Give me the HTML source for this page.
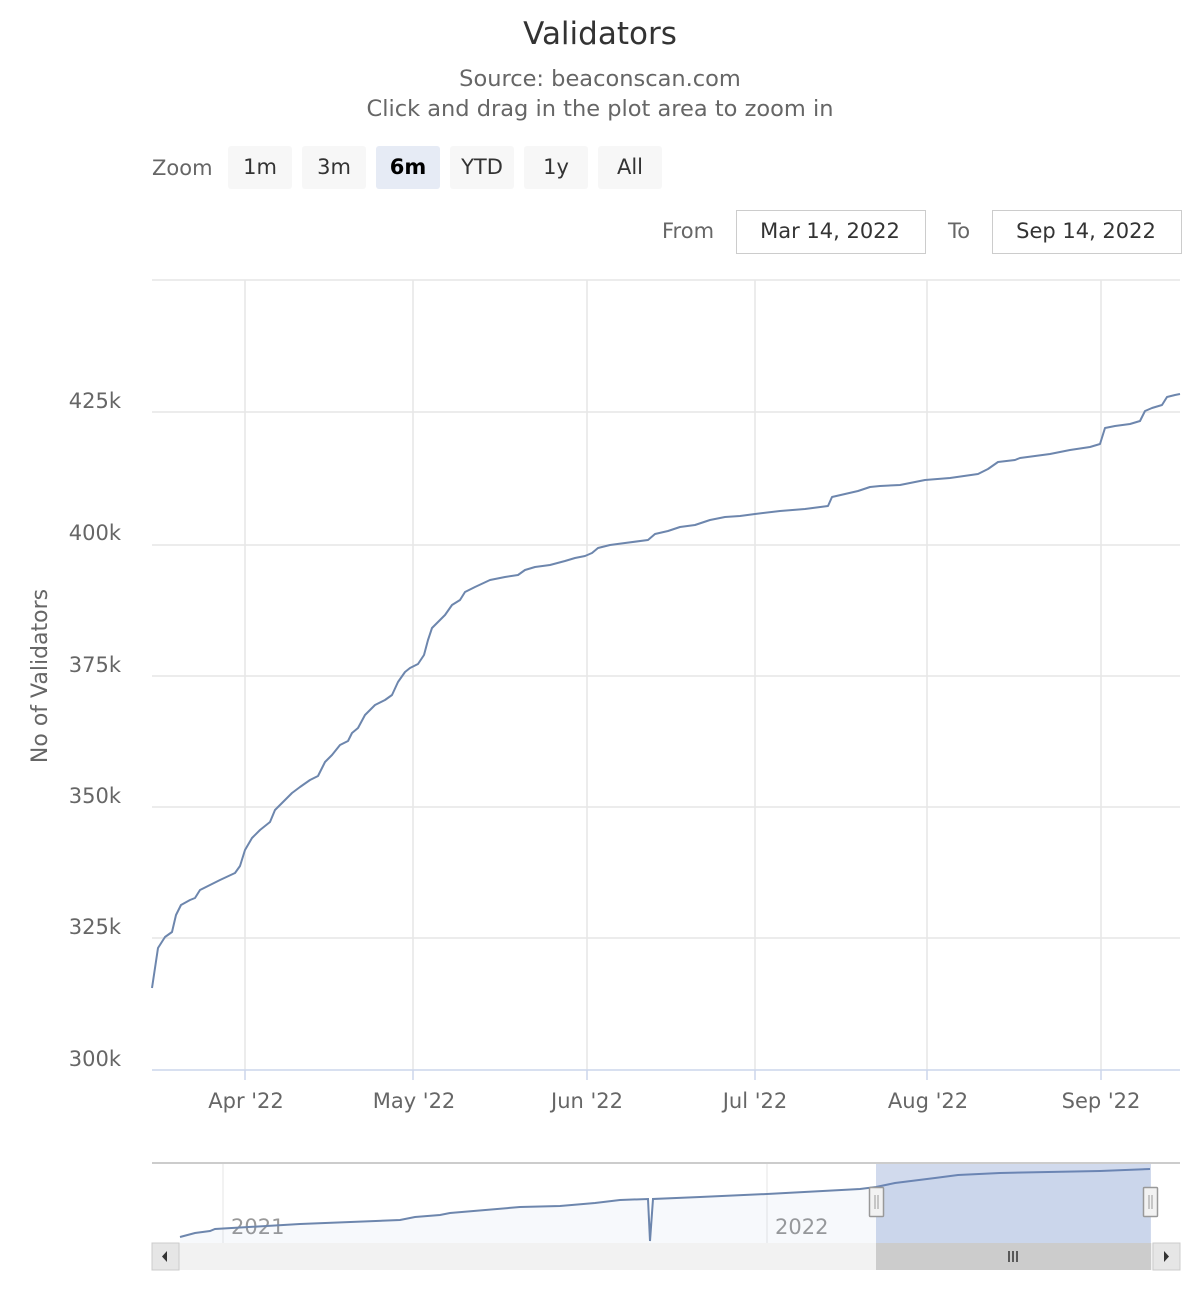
<!DOCTYPE html>
<html><head><meta charset="utf-8"><style>
body{margin:0;background:#fff;}
svg{display:block;font-family:"DejaVu Sans","Liberation Sans",sans-serif;}
</style></head><body>
<svg width="1200" height="1300" viewBox="0 0 1200 1300" xmlns="http://www.w3.org/2000/svg">
<rect width="1200" height="1300" fill="#fff"/>
<text x="600" y="44" text-anchor="middle" font-size="31" fill="#333">Validators</text>
<text x="600" y="86" text-anchor="middle" font-size="22.5" fill="#666">Source: beaconscan.com</text>
<text x="600" y="116" text-anchor="middle" font-size="22.5" fill="#666">Click and drag in the plot area to zoom in</text>
<text x="152" y="175" font-size="21" fill="#666">Zoom</text>
<g font-size="21" fill="#333" text-anchor="middle">
<rect x="228" y="146" width="64" height="43" rx="3" fill="#f7f7f7"/><text x="260" y="174">1m</text>
<rect x="302" y="146" width="64" height="43" rx="3" fill="#f7f7f7"/><text x="334" y="174">3m</text>
<rect x="376" y="146" width="64" height="43" rx="3" fill="#e6ebf5"/><text x="408" y="174" font-weight="bold" fill="#000">6m</text>
<rect x="450" y="146" width="64" height="43" rx="3" fill="#f7f7f7"/><text x="482" y="174">YTD</text>
<rect x="524" y="146" width="64" height="43" rx="3" fill="#f7f7f7"/><text x="556" y="174">1y</text>
<rect x="598" y="146" width="64" height="43" rx="3" fill="#f7f7f7"/><text x="630" y="174">All</text>
</g>
<text x="662" y="238" font-size="21" fill="#666">From</text>
<rect x="736.5" y="210.5" width="189" height="43" fill="#fff" stroke="#ccc"/>
<text x="830" y="238" font-size="21" fill="#333" text-anchor="middle">Mar 14, 2022</text>
<text x="948" y="238" font-size="21" fill="#666">To</text>
<rect x="992.5" y="210.5" width="189" height="43" fill="#fff" stroke="#ccc"/>
<text x="1086" y="238" font-size="21" fill="#333" text-anchor="middle">Sep 14, 2022</text>
<g stroke="#e6e6e6" stroke-width="1.5">
<line x1="152" y1="280" x2="1180" y2="280"/>
<line x1="152" y1="412" x2="1180" y2="412"/>
<line x1="152" y1="545" x2="1180" y2="545"/>
<line x1="152" y1="676" x2="1180" y2="676"/>
<line x1="152" y1="807" x2="1180" y2="807"/>
<line x1="152" y1="938" x2="1180" y2="938"/>
<line x1="245" y1="280" x2="245" y2="1070"/>
<line x1="413" y1="280" x2="413" y2="1070"/>
<line x1="587" y1="280" x2="587" y2="1070"/>
<line x1="755" y1="280" x2="755" y2="1070"/>
<line x1="927" y1="280" x2="927" y2="1070"/>
<line x1="1101" y1="280" x2="1101" y2="1070"/>
</g>
<line x1="152" y1="1070" x2="1180" y2="1070" stroke="#ccd6eb" stroke-width="1.5"/>
<g stroke="#ccd6eb" stroke-width="1.5"><line x1="245" y1="1070" x2="245" y2="1080"/><line x1="413" y1="1070" x2="413" y2="1080"/><line x1="587" y1="1070" x2="587" y2="1080"/><line x1="755" y1="1070" x2="755" y2="1080"/><line x1="927" y1="1070" x2="927" y2="1080"/><line x1="1101" y1="1070" x2="1101" y2="1080"/></g>
<g font-size="21" fill="#666" text-anchor="end">
<text x="121" y="408">425k</text><text x="121" y="540">400k</text><text x="121" y="672">375k</text>
<text x="121" y="803">350k</text><text x="121" y="934">325k</text><text x="121" y="1066">300k</text>
</g>
<g font-size="21" fill="#666" text-anchor="middle">
<text x="246" y="1108">Apr '22</text><text x="414" y="1108">May '22</text><text x="587" y="1108">Jun '22</text>
<text x="755" y="1108">Jul '22</text><text x="928" y="1108">Aug '22</text><text x="1101" y="1108">Sep '22</text>
</g>
<text transform="translate(47,676) rotate(-90)" text-anchor="middle" font-size="22" fill="#666">No of Validators</text>
<polyline fill="none" stroke="#6d86ad" stroke-width="2" stroke-linejoin="round" points="152,988 158,948 165,937 172,932 176,915 181,905 190,900 195,898 200,890 210,885 220,880 235,873 240,866 245,850 252,838 260,830 270,822 275,810 285,800 292,793 300,787 310,780 318,776 325,762 332,755 340,745 348,741 352,733 358,728 365,715 370,710 375,705 385,700 392,695 398,682 405,672 410,668 418,664 424,655 428,640 432,628 440,620 445,615 452,605 460,600 465,592 475,587 490,580 505,577 518,575 525,570 535,567 550,565 565,561 575,558 585,556 592,553 598,548 610,545 625,543 648,540 655,534 668,531 680,527 695,525 710,520 725,517 740,516 755,514 780,511 805,509 828,506 832,497 845,494 858,491 870,487 880,486 900,485 915,482 925,480 950,478 978,474 988,469 998,462 1015,460 1020,458 1050,454 1070,450 1090,447 1100,444 1105,428 1115,426 1130,424 1140,421 1145,411 1152,408 1162,405 1167,397 1175,395 1180,394"/>
<line x1="152" y1="1163" x2="1180" y2="1163" stroke="#ccc" stroke-width="2"/>
<line x1="223" y1="1164" x2="223" y2="1243" stroke="#e6e6e6"/>
<line x1="767" y1="1164" x2="767" y2="1243" stroke="#e6e6e6"/>
<text x="231" y="1234" font-size="21" fill="#999">2021</text>
<text x="775" y="1234" font-size="21" fill="#999">2022</text>
<polygon fill="#6685c2" fill-opacity="0.05" points="180,1237 195,1233 210,1231 215,1229 300,1224 400,1220 415,1217 440,1215 450,1213 520,1207 560,1206 595,1203 620,1200 648,1199 650,1241 653,1199 700,1197 767,1194 860,1189 876,1187 895,1183 935,1178 958,1175 1000,1173 1100,1171 1150,1169 1150,1243 180,1243"/>
<polyline fill="none" stroke="#6d86ad" stroke-width="2" points="180,1237 195,1233 210,1231 215,1229 300,1224 400,1220 415,1217 440,1215 450,1213 520,1207 560,1206 595,1203 620,1200 648,1199 650,1241 653,1199 700,1197 767,1194 860,1189 876,1187 895,1183 935,1178 958,1175 1000,1173 1100,1171 1150,1169"/>
<rect x="876" y="1164" width="275" height="79" fill="#6685c2" fill-opacity="0.3"/>
<g fill="#f2f2f2" stroke="#999" stroke-width="1.5">
<rect x="869.5" y="1187.5" width="14" height="29" rx="1"/>
<rect x="1143.5" y="1187.5" width="14" height="29" rx="1"/>
</g>
<g stroke="#999"><line x1="875" y1="1195" x2="875" y2="1209"/><line x1="878" y1="1195" x2="878" y2="1209"/><line x1="1149" y1="1195" x2="1149" y2="1209"/><line x1="1152" y1="1195" x2="1152" y2="1209"/></g>
<rect x="152" y="1243" width="1028" height="27" fill="#f2f2f2"/>
<rect x="876" y="1243" width="275" height="27" fill="#ccc"/>
<rect x="152" y="1243" width="27" height="27" fill="#e6e6e6" stroke="#ccc"/>
<rect x="1153" y="1243" width="27" height="27" fill="#e6e6e6" stroke="#ccc"/>
<polygon points="167,1251 167,1262 162,1256.5" fill="#333"/>
<polygon points="1164,1251 1164,1262 1169,1256.5" fill="#333"/>
<g stroke="#333" stroke-width="1.5"><line x1="1009" y1="1251" x2="1009" y2="1262"/><line x1="1013" y1="1251" x2="1013" y2="1262"/><line x1="1017" y1="1251" x2="1017" y2="1262"/></g>
</svg>
</body></html>
